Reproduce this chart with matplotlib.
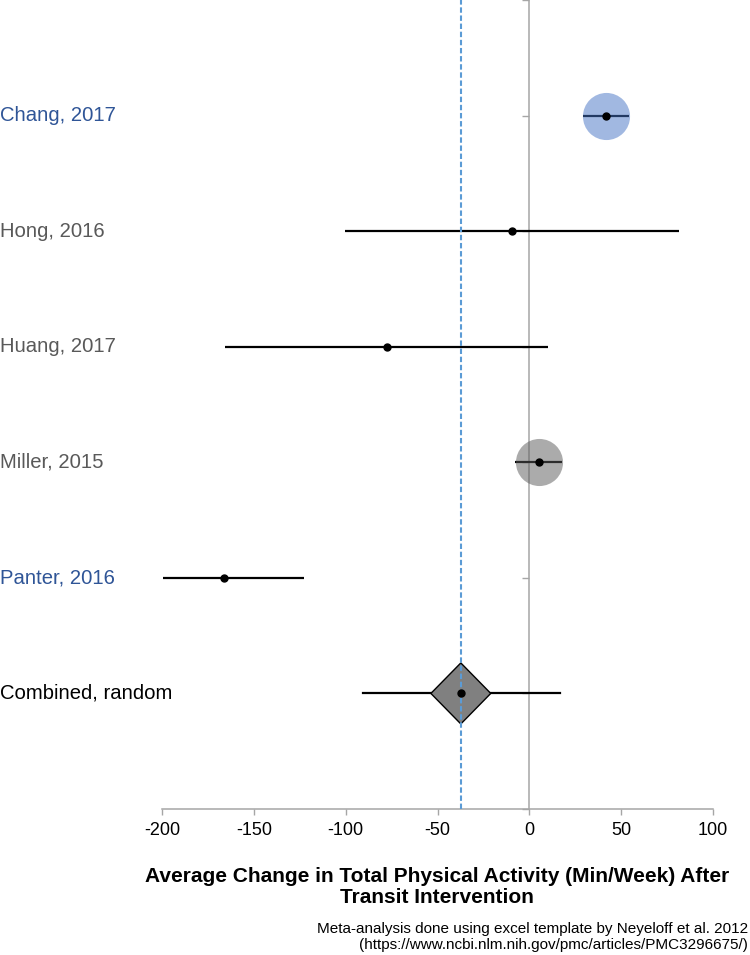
import matplotlib.pyplot as plt
from matplotlib.patches import Polygon
from matplotlib.transforms import blended_transform_factory

plt.rcParams['font.family'] = ['Liberation Sans', 'DejaVu Sans']
plt.rcParams['axes.unicode_minus'] = False

# studies, top to bottom
studies = ["Chang, 2017", "Hong, 2016", "Huang, 2017", "Miller, 2015", "Panter, 2016"]
effect = [41.5, -9.5, -77.5, 5.0, -166.0]
ci_low = [29.0, -100.5, -165.5, -8.0, -199.5]
ci_high = [54.0, 81.5, 10.0, 18.0, -122.5]
label_colors = ["#2F5597", "#595959", "#595959", "#595959", "#2F5597"]
highlight = ["#4472C4", None, None, "#595959", None]

# pooled estimate
combined_label = "Combined, random"
combined_est = -37.3
combined_low = -90.5
combined_high = 16.5
combined_halfwidth = 16.3

fig = plt.figure(figsize=(7.5, 9.55), dpi=100)
ax = fig.add_axes([162 / 750, 1 - 809 / 955, 551 / 750, 809 / 955])
lab_tr = blended_transform_factory(fig.transFigure, ax.transData)

rows = list(range(1, len(studies) + 1))
for y, est, lo, hi, hc in zip(rows, effect, ci_low, ci_high, highlight):
    ax.plot([lo, hi], [y, y], color="black", lw=1.6, zorder=3, solid_capstyle="butt")
    if hc:
        ax.scatter([est], [y], s=1150, color=hc, alpha=0.5, lw=0, zorder=4)
    ax.plot([est], [y], "o", color="black", ms=5, zorder=5)

yc = len(studies) + 1
ax.plot([combined_low, combined_high], [yc, yc], color="black", lw=1.6, zorder=3)
dh = 0.264
diamond = Polygon([(combined_est - combined_halfwidth, yc), (combined_est, yc - dh),
                   (combined_est + combined_halfwidth, yc), (combined_est, yc + dh)],
                  closed=True, facecolor="#808080", edgecolor="black", lw=1, zorder=4)
ax.add_patch(diamond)
ax.plot([combined_est], [yc], "o", color="black", ms=5, zorder=7)
ax.axvline(combined_est, color="#5B9BD5", ls=(0, (2.6, 1.3)), lw=1.5, zorder=6)

ax.set_xlim(-200, 100)
ax.set_ylim(yc + 1, 0)
ax.set_xticks(range(-200, 101, 50))
ax.set_yticks(range(0, yc + 2))
ax.set_yticklabels([])
ax.spines['top'].set_visible(False)
ax.spines['right'].set_visible(False)
ax.spines['left'].set_position(('data', 0))
for s in ['left', 'bottom']:
    ax.spines[s].set_color("#A6A6A6")
    ax.spines[s].set_linewidth(1.1)
ax.tick_params(axis='y', length=5, color="#A6A6A6", width=1)
ax.tick_params(axis='x', length=4, color="#A6A6A6", width=1, labelsize=13, pad=5)

for y, name, c in zip(rows, studies, label_colors):
    ax.text(0.0, y, name, transform=lab_tr, fontsize=14.6, color=c, va="center", ha="left")
ax.text(0.0, yc, combined_label, transform=lab_tr, fontsize=14.6, color="black",
        va="center", ha="left")

fig.text(437 / 750, 1 - 887 / 955,
         "Average Change in Total Physical Activity (Min/Week) After\nTransit Intervention",
         ha="center", va="center", fontsize=15, fontweight="bold", linespacing=1.15)
fig.text(748 / 750, 1 - 937 / 955,
         "Meta-analysis done using excel template by Neyeloff et al. 2012\n"
         "(https://www.ncbi.nlm.nih.gov/pmc/articles/PMC3296675/)",
         ha="right", va="center", fontsize=11, linespacing=1.25)

fig.savefig("out.png", dpi=100)
